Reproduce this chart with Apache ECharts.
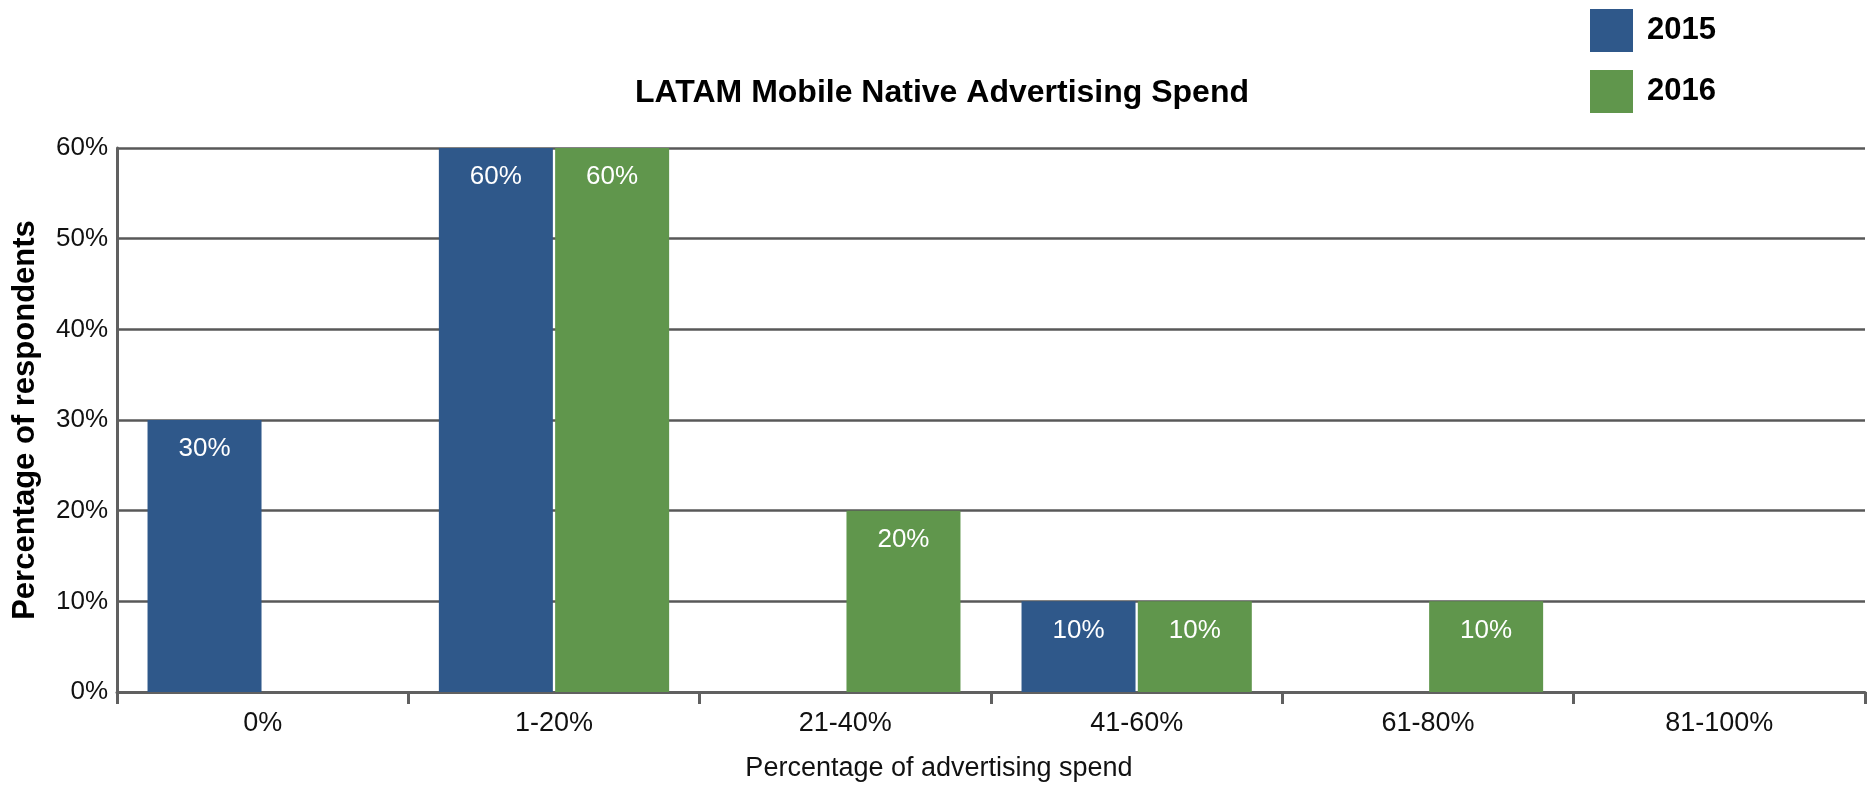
<!DOCTYPE html>
<html>
<head>
<meta charset="utf-8">
<script src="https://cdn.jsdelivr.net/npm/echarts@6/dist/echarts.min.js"></script>
<style>
  html, body { margin: 0; padding: 0; background: #fff; }
  #myChart { width: 1875px; height: 787px; }
</style>
</head>
<body>
<div id="myChart"></div>
<script>
const categories = ['0%', '1-20%', '21-40%', '41-60%', '61-80%', '81-100%']
const values2015 = [30, 60, 0, 10, 0, 0]
const values2016 = [0, 60, 20, 10, 10, 0]
const yTicks = [0, 10, 20, 30, 40, 50, 60]

const font = 'Liberation Sans, Arial, Helvetica, sans-serif'
const blue = '#2f588a'
const green = '#60964c'

const chart = echarts.init(document.getElementById('myChart'))

// white labels near the top of each bar, hidden on empty bars
const barLabel = {
  show: true,
  position: 'insideTop',
  distance: 16,
  color: '#fff',
  fontFamily: font,
  fontSize: 26,
  formatter: (p) => (p.value ? p.value + '%' : '')
}

const options = {
  animation: false,
  backgroundColor: '#fff',
  title: {
    text: 'LATAM Mobile Native Advertising Spend',
    left: 937,
    top: 72,
    textAlign: 'center',
    textStyle: { fontFamily: font, fontSize: 32, fontWeight: 'bold', color: '#000' }
  },
  legend: {
    orient: 'vertical',
    left: 1590,
    top: 9,
    padding: 0,
    itemWidth: 43,
    itemHeight: 43,
    itemGap: 18,
    icon: 'rect',
    textStyle: { fontFamily: font, fontSize: 31, fontWeight: 'bold', color: '#000', padding: [4, 0, 0, 9] },
    data: ['2015', '2016']
  },
  grid: {
    left: 117,
    right: 10,
    top: 148,
    bottom: 92
  },
  xAxis: {
    type: 'category',
    data: categories,
    name: 'Percentage of advertising spend',
    nameLocation: 'middle',
    nameGap: 63,
    // the name sits a bit left of the plot centre in the original
    nameTextStyle: { fontFamily: font, fontSize: 27, color: '#111', padding: [0, 104, 0, 0] },
    axisLine: { lineStyle: { color: '#606060', width: 3 } },
    axisTick: { show: true, length: 12, lineStyle: { color: '#606060', width: 3 } },
    axisLabel: { margin: 18, fontFamily: font, fontSize: 27, color: '#111' }
  },
  yAxis: {
    type: 'value',
    min: yTicks[0],
    max: yTicks[yTicks.length - 1],
    interval: yTicks[1] - yTicks[0],
    name: 'Percentage of respondents',
    nameLocation: 'middle',
    nameGap: 76,
    nameTextStyle: { fontFamily: font, fontSize: 31, fontWeight: 'bold', color: '#000' },
    axisLine: { show: true, lineStyle: { color: '#606060', width: 3 } },
    axisTick: { show: false },
    axisLabel: { margin: 9, fontFamily: font, fontSize: 26, color: '#111', formatter: '{value}%' },
    splitLine: { show: true, lineStyle: { color: '#585858', width: 2.5 } }
  },
  series: [
    {
      name: '2015',
      type: 'bar',
      data: values2015,
      barWidth: 114,
      barGap: '2%',
      itemStyle: { color: blue },
      label: barLabel
    },
    {
      name: '2016',
      type: 'bar',
      data: values2016,
      barWidth: 114,
      barGap: '2%',
      itemStyle: { color: green },
      label: barLabel
    }
  ]
}

chart.setOption(options)
</script>
</body>
</html>
